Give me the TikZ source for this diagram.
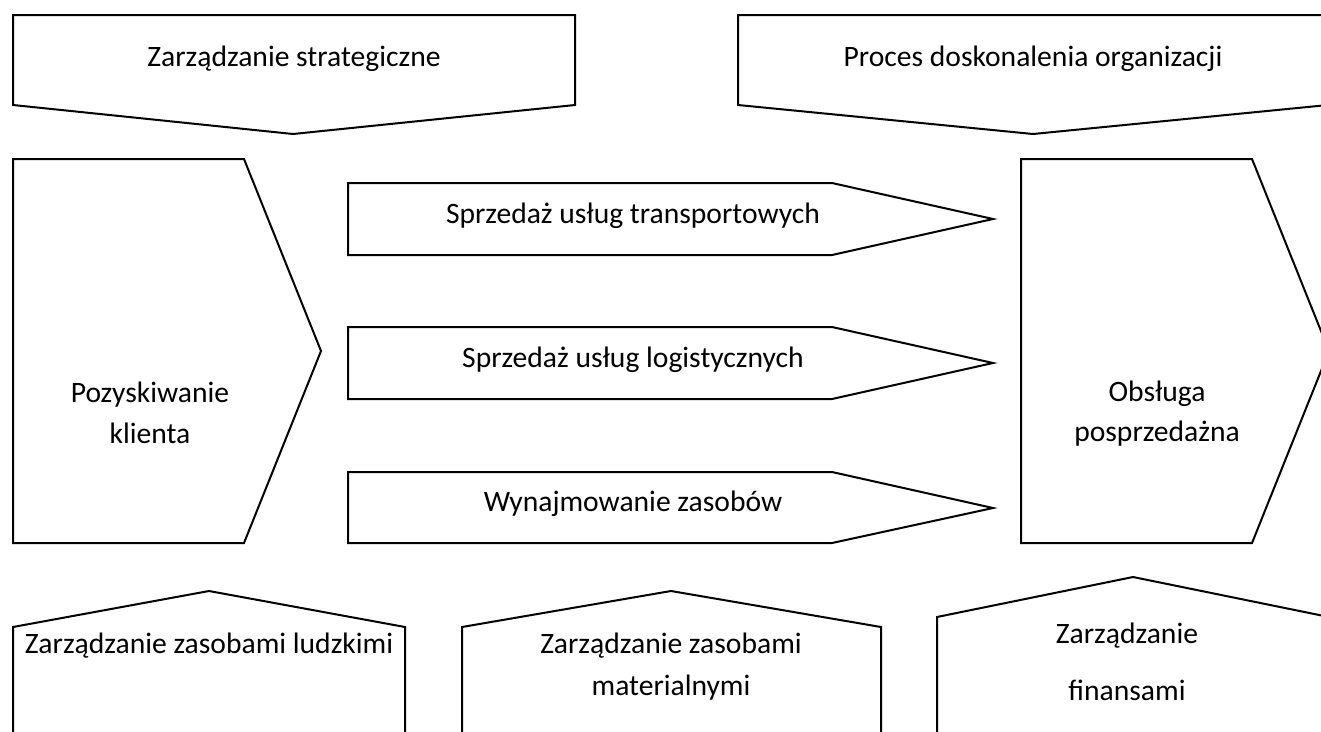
\documentclass[tikz,border=0pt]{standalone}
\usepackage{fontspec}
\setmainfont{Carlito}
\begin{document}
\begin{tikzpicture}[x=1pt,y=-1pt,
  shp/.style={draw=black,line width=2pt,line join=miter,fill=white},
  lbl/.style={anchor=base,inner sep=0pt,font=\fontsize{29.6pt}{35pt}\selectfont}]
\useasboundingbox (0,0) rectangle (1321,731);
\clip (0,0) rectangle (1321,731);
% top chevrons
\draw[shp] (13,15) -- (575,15) -- (575,105) -- (293,134) -- (13,105) -- cycle;
\draw[shp] (738,15) -- (1328,15) -- (1328,105) -- (1033,134) -- (738,105) -- cycle;
% left and right pentagons
\draw[shp] (13,159) -- (244,159) -- (321,351) -- (244,543) -- (13,543) -- cycle;
\draw[shp] (1021,159) -- (1252,159) -- (1329,351) -- (1252,543) -- (1021,543) -- cycle;
% middle arrows
\draw[shp] (348,183) -- (832,183) -- (993,219) -- (832,255) -- (348,255) -- cycle;
\draw[shp] (348,327) -- (832,327) -- (993,363) -- (832,399) -- (348,399) -- cycle;
\draw[shp] (348,472) -- (832,472) -- (993,508) -- (832,543) -- (348,543) -- cycle;
% bottom houses
\draw[shp] (13,745) -- (13,627) -- (209,591) -- (405,627) -- (405,745);
\draw[shp] (462,745) -- (462,627) -- (671,591) -- (881,627) -- (881,745);
\draw[shp] (937,745) -- (937,617) -- (1133,577) -- (1329,617) -- (1329,745);
% labels
\node[lbl] (strat) at (294,66) {Zarządzanie strategiczne};
\node[lbl] (proces) at (1033,66) {Proces doskonalenia organizacji};
\node[lbl] (poz1) at (150,402) {Pozyskiwanie};
\node[lbl] (poz2) at (150,443) {klienta};
\node[lbl] (obs1) at (1157,401) {Obsługa};
\node[lbl] (obs2) at (1157,441) {posprzedażna};
\node[lbl] (tr) at (633,223) {Sprzedaż usług transportowych};
\node[lbl] (lg) at (633,367) {Sprzedaż usług logistycznych};
\node[lbl] (wz) at (633,511) {Wynajmowanie zasobów};
\node[lbl] (zl) at (209,653) {Zarządzanie zasobami ludzkimi};
\node[lbl] (zm1) at (671,653) {Zarządzanie zasobami};
\node[lbl] (zm2) at (671,695) {materialnymi};
\node[lbl] (zf1) at (1127,643) {Zarządzanie};
\node[lbl] (zf2) at (1127,700) {finansami};
\end{tikzpicture}
\end{document}
